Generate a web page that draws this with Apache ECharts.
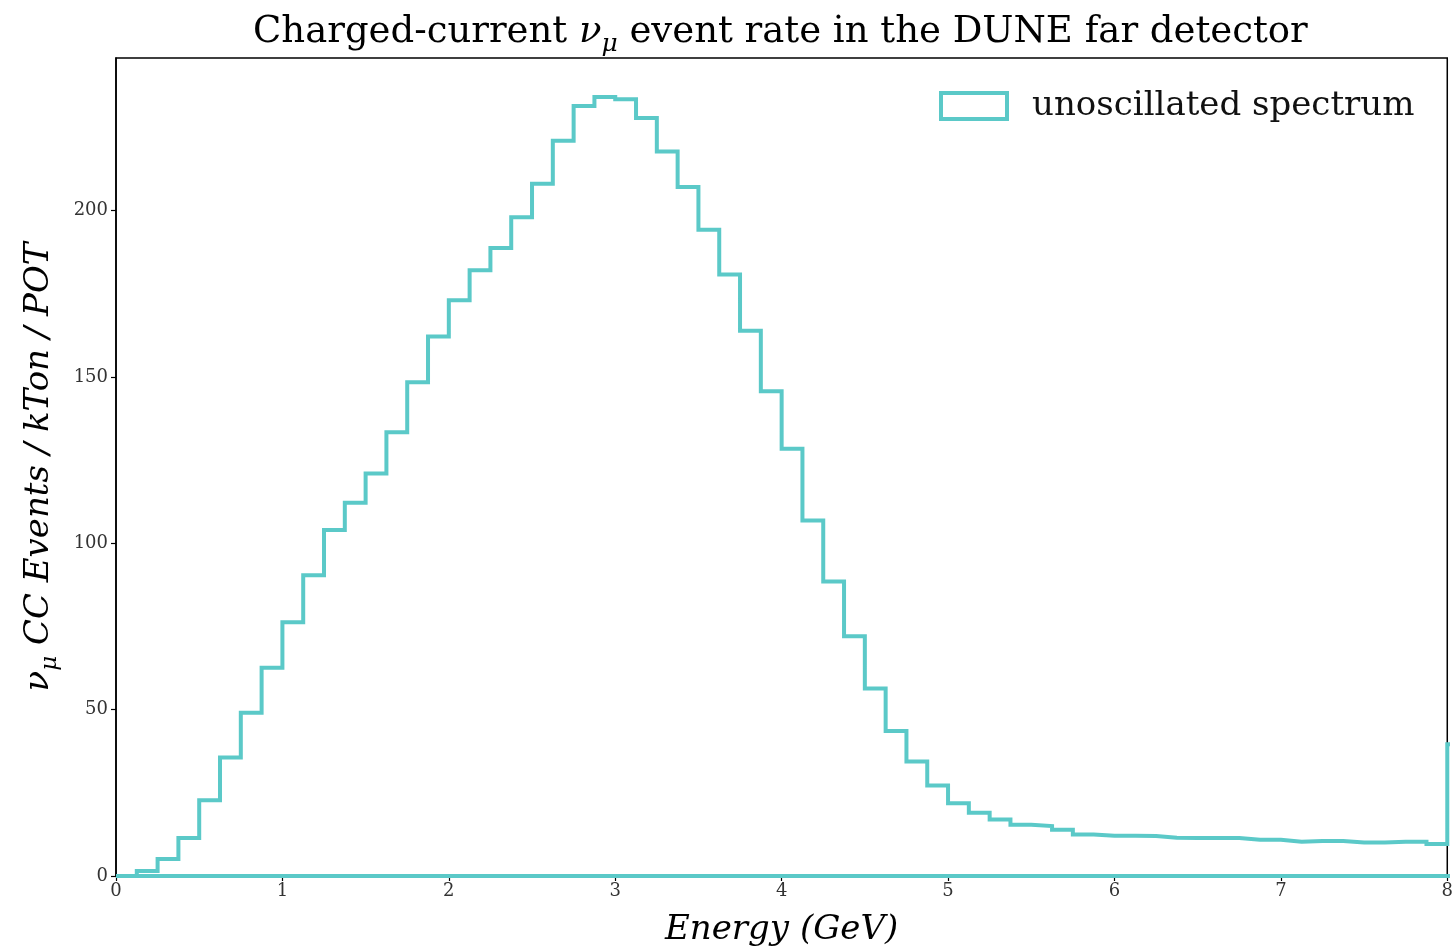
<!DOCTYPE html>
<html>
<head>
<meta charset="utf-8">
<script src="https://cdn.jsdelivr.net/npm/echarts@6/dist/echarts.min.js"></script>
<style>
  html, body { margin: 0; padding: 0; background: #fff; }
  #chart { width: 1456px; height: 952px; }
</style>
</head>
<body>
<div id="chart"></div>
<script>
// histogram bins: 0 to 8 GeV, width 0.125, plus one overflow bin past 8
const binStart = 0
const binWidth = 0.125
const counts = [
  0, 1.5, 5.1, 11.4, 22.8, 35.6, 49.1, 62.6,
  76.3, 90.4, 104.0, 112.2, 121.0, 133.4, 148.4, 162.2,
  173.1, 182.1, 188.8, 198.0, 208.1, 221.0, 231.5, 234.2,
  233.5, 227.9, 217.8, 207.1, 194.3, 180.8, 163.9, 145.7,
  128.4, 106.9, 88.5, 72.1, 56.4, 43.6, 34.4, 27.2,
  21.9, 19.0, 17.0, 15.4, 15.0, 13.9, 12.5, 12.1,
  12.1, 12.0, 11.5, 11.4, 11.4, 11.4, 10.9, 10.9,
  10.3, 10.5, 10.5, 10.1, 10.1, 10.3, 10.3, 9.6,
  39.6
]
const xTicks = [0, 1, 2, 3, 4, 5, 6, 7, 8]
const yTicks = [0, 50, 100, 150, 200]

const teal = '#5bc9c8'
const serif = 'DejaVu Serif'

// step outline, closed along the baseline like matplotlib histtype='step'
const pts = counts.map((c, i) => [binStart + i * binWidth, c])
const lastEdge = binStart + counts.length * binWidth
pts.push([lastEdge, counts[counts.length - 1]])
pts.push([lastEdge, 0])
pts.push([binStart, 0])

const nuRich = (size, sub, drop) => ({
  g: { fontFamily: serif, fontSize: size, fontStyle: 'italic', color: '#000' },
  s: { fontFamily: serif, fontSize: sub, fontStyle: 'italic', color: '#000', verticalAlign: 'bottom', padding: [0, 0, -drop, 0] }
})

const chart = echarts.init(document.getElementById('chart'))
chart.setOption({
  animation: false,
  backgroundColor: '#fff',
  title: {
    // centred over the plot area, not the page
    text: 'Charged-current {g|ν}{s|μ} event rate in the DUNE far detector',
    left: 248,
    top: 9,
    textStyle: {
      fontFamily: serif,
      fontSize: 37,
      fontWeight: 'normal',
      color: '#000',
      rich: nuRich(37, 25, 6)
    }
  },
  legend: {
    left: 934,
    top: 84,
    icon: 'rect',
    itemWidth: 66,
    itemHeight: 26,
    itemStyle: { color: '#fff', borderColor: teal, borderWidth: 4 },
    textStyle: { fontFamily: serif, fontSize: 34, color: '#111', padding: [0, 0, 0, 20] },
    data: ['unoscillated spectrum']
  },
  grid: {
    left: 116,
    right: 8,
    top: 58,
    bottom: 73,
    show: true,
    borderColor: '#000',
    borderWidth: 1.5,
    backgroundColor: 'transparent'
  },
  xAxis: {
    type: 'value',
    min: xTicks[0],
    max: xTicks[xTicks.length - 1],
    interval: 1,
    name: 'Energy (GeV)',
    nameLocation: 'middle',
    nameGap: 37,
    nameTextStyle: { fontFamily: serif, fontSize: 34, fontStyle: 'italic', color: '#000' },
    axisLine: { lineStyle: { color: '#000', width: 1.5 } },
    axisTick: { length: 5, lineStyle: { color: '#000', width: 1.2 } },
    axisLabel: { fontFamily: serif, fontSize: 18, color: '#333', margin: 6 },
    splitLine: { show: false }
  },
  yAxis: {
    type: 'value',
    min: yTicks[0],
    max: 245.9,
    interval: 50,
    name: '{g|ν}{s|μ} CC Events / kTon / POT',
    nameLocation: 'middle',
    nameGap: 60,
    nameTextStyle: {
      fontFamily: serif, fontSize: 34, fontStyle: 'italic', color: '#000',
      rich: nuRich(34, 23, 6)
    },
    axisLine: { show: true, lineStyle: { color: '#000', width: 1.5 } },
    axisTick: { show: true, length: 5, customValues: yTicks, lineStyle: { color: '#000', width: 1.2 } },
    axisLabel: {
      fontFamily: serif, fontSize: 18, color: '#333', margin: 8,
      customValues: yTicks
    },
    splitLine: { show: false }
  },
  series: [{
    name: 'unoscillated spectrum',
    type: 'line',
    step: 'end',
    data: pts,
    showSymbol: false,
    symbol: 'none',
    clip: true,
    lineStyle: { color: teal, width: 4, join: 'miter' },
    itemStyle: { color: teal },
    z: 5
  }]
})
</script>
</body>
</html>
